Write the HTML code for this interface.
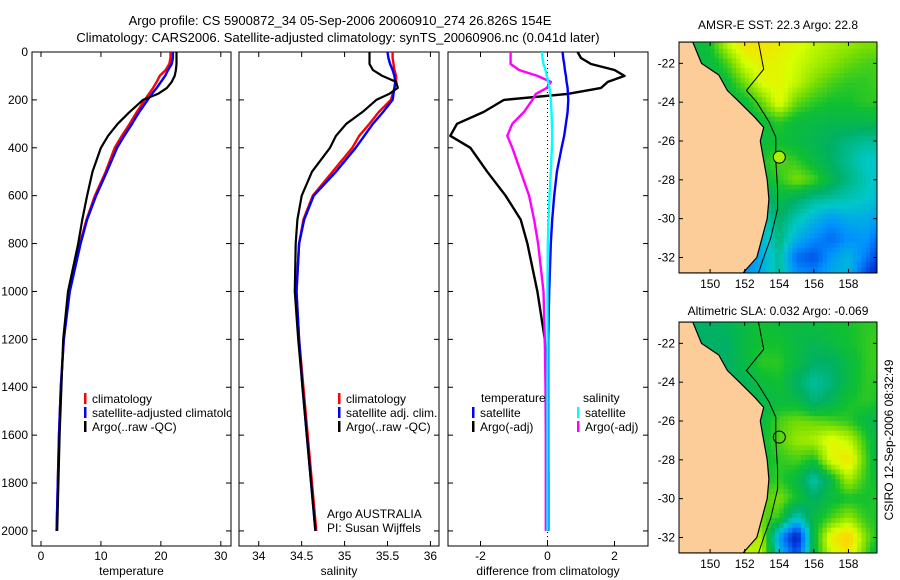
<!DOCTYPE html>
<html><head><meta charset="utf-8"><style>
html,body{margin:0;padding:0;background:#fff;}
svg{display:block;font-family:"Liberation Sans",sans-serif;}
text{fill:#000;}
</style></head><body>
<svg id="fig" width="900" height="580" viewBox="0 0 900 580">
<defs><clipPath id="c1"><rect x="32" y="52" width="199" height="494"/></clipPath></defs>
<text x="340" y="25" font-size="13" text-anchor="middle">Argo profile: CS 5900872_34 05-Sep-2006 20060910_274 26.826S 154E</text>
<text x="338" y="42" font-size="13" text-anchor="middle">Climatology: CARS2006. Satellite-adjusted climatology: synTS_20060906.nc (0.041d later)</text>
<text x="778" y="29" font-size="12" text-anchor="middle">AMSR-E SST: 22.3 Argo: 22.8</text>
<text x="778" y="315" font-size="12" text-anchor="middle">Altimetric SLA: 0.032 Argo: -0.069</text>
<text transform="translate(893,440) rotate(-90)" font-size="12" text-anchor="middle">CSIRO 12-Sep-2006 08:32:49</text>
<g id="plots"></g>
</svg>
<script>
const depths=[0,25,50,75,100,125,150,175,200,250,300,350,400,500,600,700,800,1000,1200,1400,1600,1800,2000];
const tClim=[21.6,21.6,21.4,20.8,19.8,19.3,18.7,18,17.3,16,14.8,13.5,12.3,10.8,9,7.6,6.5,4.7,3.8,3.3,3.0,2.8,2.6];
const tSat=[22,22,21.8,21.2,20.7,20,19.3,18.5,17.8,16.4,15.2,13.9,12.7,11,9.2,7.7,6.6,4.8,3.8,3.3,3.0,2.8,2.6];
const tArgo=[22.6,22.6,22.6,22.5,22.3,21.8,21,19.5,17,14.8,12.8,11.2,10,8.6,7.7,6.9,6.2,4.5,3.7,3.4,3.1,2.9,2.7];
const sClim=[35.56,35.56,35.57,35.58,35.6,35.6,35.58,35.56,35.54,35.4,35.29,35.17,35.09,34.86,34.63,34.52,34.47,34.44,34.47,34.52,34.57,34.62,34.67];
const sSat=[35.5,35.51,35.53,35.56,35.58,35.59,35.58,35.57,35.56,35.45,35.33,35.23,35.13,34.9,34.64,34.53,34.47,34.44,34.47,34.51,34.56,34.61,34.66];
const sArgo=[35.29,35.29,35.29,35.33,35.44,35.6,35.62,35.52,35.37,35.21,35.02,34.9,34.83,34.62,34.5,34.45,34.43,34.42,34.46,34.51,34.56,34.61,34.66];
const dTArgo=[0.9,1.0,1.3,2.0,2.3,1.8,1.6,0.6,-1.3,-1.9,-2.7,-2.9,-2.3,-1.8,-1.25,-0.8,-0.6,-0.3,-0.08,0,0,0.02,0.02];
const dTSat=[0.45,0.47,0.5,0.52,0.55,0.57,0.6,0.61,0.62,0.6,0.55,0.5,0.42,0.28,0.2,0.14,0.1,0.05,0.02,0.02,0.02,0.02,0.02];
const dSSat=[-0.17,-0.15,-0.12,-0.06,-0.02,0.02,0.06,0.08,0.1,0.12,0.13,0.14,0.13,0.1,0.06,0.03,0.01,0,0,0,0,0,0];
const dSArgo=[-1.1,-1.1,-1.1,-0.85,-0.3,0.1,-0.02,-0.35,-0.45,-0.7,-1.05,-1.2,-1.05,-0.8,-0.55,-0.4,-0.28,-0.12,-0.08,-0.06,-0.05,-0.05,-0.05];
const depthTicks=[0,200,400,600,800,1000,1200,1400,1600,1800,2000];
const tTicks=[0,10,20,30];
const sTicks=[34,34.5,35,35.5,36];
const sTickLabels=["34","34.5","35","35.5","36"];
const dTicks=[-2,0,2];
const lonTicks=[150,152,154,156,158];
const latTicks=[-22,-24,-26,-28,-30,-32];
const gridLons=[148,149,150,151,152,153,154,155,156,157,158,159,160];
const gridLats=[-21,-22,-23,-24,-25,-26,-27,-28,-29,-30,-31,-32,-33];
const sstGrid=[
[.55,.55,.58,.72,.8,.8,.78,.75,.72,.7,.68,.66,.66],
[.55,.55,.55,.62,.74,.77,.76,.73,.7,.67,.64,.62,.62],
[.55,.55,.55,.56,.65,.75,.76,.72,.66,.62,.6,.6,.62],
[.55,.55,.55,.55,.56,.64,.76,.64,.6,.58,.58,.6,.6],
[.55,.55,.55,.55,.55,.56,.6,.56,.55,.54,.54,.54,.54],
[.55,.55,.55,.55,.55,.56,.57,.55,.53,.5,.47,.45,.45],
[.55,.55,.55,.55,.55,.58,.63,.6,.55,.5,.45,.4,.4],
[.55,.55,.55,.55,.55,.56,.6,.66,.62,.53,.47,.42,.38],
[.55,.55,.55,.5,.45,.45,.55,.5,.45,.44,.42,.4,.36],
[.5,.5,.5,.45,.35,.4,.5,.42,.36,.3,.34,.34,.3],
[.45,.45,.45,.4,.3,.36,.48,.35,.28,.22,.28,.3,.2],
[.4,.4,.4,.35,.28,.34,.45,.22,.18,.3,.36,.25,.1],
[.4,.4,.4,.35,.28,.34,.45,.3,.28,.34,.36,.15,.03]];
const slaGrid=[
[.5,.5,.5,.52,.55,.58,.56,.55,.56,.57,.58,.6,.6],
[.5,.5,.5,.5,.55,.58,.58,.55,.53,.55,.58,.6,.62],
[.5,.5,.5,.5,.55,.6,.6,.55,.5,.5,.55,.6,.62],
[.5,.5,.5,.5,.52,.56,.58,.5,.44,.48,.55,.6,.6],
[.5,.5,.5,.5,.52,.54,.56,.55,.48,.52,.58,.6,.58],
[.5,.5,.5,.5,.52,.55,.62,.65,.64,.62,.6,.55,.52],
[.5,.5,.5,.5,.52,.56,.63,.68,.7,.76,.72,.6,.5],
[.5,.5,.5,.5,.52,.56,.6,.62,.58,.75,.8,.62,.48],
[.5,.5,.5,.5,.55,.58,.6,.55,.42,.55,.7,.6,.55],
[.5,.5,.5,.55,.6,.62,.66,.58,.5,.56,.58,.58,.6],
[.5,.5,.5,.6,.62,.64,.6,.4,.55,.62,.68,.6,.58],
[.5,.5,.5,.65,.68,.7,.3,.05,.55,.78,.84,.66,.55],
[.5,.5,.5,.68,.72,.72,.4,.2,.55,.72,.78,.62,.45]];
const coastLon=[147,149.0,149.5,150.5,151.0,151.7,152.6,153.1,152.9,153.1,153.3,153.4,153.3,153.0,152.7,151.9,147];
const coastLat=[-20.9,-20.9,-22,-22.6,-23.4,-24,-24.8,-25.3,-26,-27,-28,-29,-30,-31,-32,-32.8,-32.8];
const shelfLon=[152.8,153.1,152.1,152.7,153.4,153.8,153.8,153.9,153.9,153.5,153.1,152.8];
const shelfLat=[-20.9,-22.3,-23.4,-24,-25,-25.8,-27,-28.5,-29.5,-31,-32,-32.8];
const argoLon=154.0, argoLat=-26.83, argoSSTIdx=0.7;

const NS='http://www.w3.org/2000/svg';
const root=document.getElementById('plots');
function mk(tag,attrs,parent){const e=document.createElementNS(NS,tag);for(const k in attrs)e.setAttribute(k,attrs[k]);(parent||root).appendChild(e);return e;}
const Y0=52,Y1=546,DMAX=2063;
function yD(d){return Y0+(d/DMAX)*(Y1-Y0);}
const panels=[
 {name:'temperature',x0:32,x1:231,lo:-1.5,hi:31.7,ticks:tTicks,labels:tTicks.map(String),title:'temperature',ylab:true},
 {name:'salinity',x0:239,x1:439,lo:33.77,hi:36.1,ticks:sTicks,labels:sTickLabels,title:'salinity',ylab:false},
 {name:'difference',x0:448,x1:648,lo:-2.97,hi:3.0,ticks:dTicks,labels:dTicks.map(String),title:'difference from climatology',ylab:false}];
function xf(p){return v=>p.x0+(v-p.lo)/(p.hi-p.lo)*(p.x1-p.x0);}
function line(p,vals,color,name,w,parent){
  const X=xf(p);const pts=vals.map((v,i)=>X(v).toFixed(1)+','+yD(depths[i]).toFixed(1)).join(' ');
  const e=mk('polyline',{points:pts,fill:'none',stroke:color,'stroke-width':w||2.2,'stroke-linejoin':'round'},parent);
  
  
}
panels.forEach(p=>{
  const g=mk('g',{});
  
  
  const X=xf(p);
  mk('rect',{x:p.x0,y:Y0,width:p.x1-p.x0,height:Y1-Y0,fill:'#fff',stroke:'#000','stroke-width':1},g);
  depthTicks.forEach(d=>{
    const y=yD(d);
    mk('line',{x1:p.x0,x2:p.x0+5,y1:y,y2:y,stroke:'#000'},g);
    mk('line',{x1:p.x1-5,x2:p.x1,y1:y,y2:y,stroke:'#000'},g);
    if(p.ylab){const t=mk('text',{x:p.x0-4,y:y+4,'font-size':12,'text-anchor':'end'},g);t.textContent=d;
      
      }
  });
  p.ticks.forEach((v,i)=>{
    const x=X(v);
    mk('line',{x1:x,x2:x,y1:Y0,y2:Y0+5,stroke:'#000'},g);
    mk('line',{x1:x,x2:x,y1:Y1-5,y2:Y1,stroke:'#000'},g);
    const t=mk('text',{x:x,y:Y1+14,'font-size':12,'text-anchor':'middle'},g);t.textContent=p.labels[i];
    
    
  });
  const tt=mk('text',{x:(p.x0+p.x1)/2,y:575,'font-size':12,'text-anchor':'middle'},g);tt.textContent=p.title;
  
  
  p.g=g;
});
line(panels[0],tClim,'#f00','temp-climatology-line',2.4,panels[0].g);
line(panels[0],tSat,'#00f','temp-satellite-line',2.4,panels[0].g);
line(panels[0],tArgo,'#000','temp-argo-line',2.2,panels[0].g);
line(panels[1],sClim,'#f00','sal-climatology-line',2.4,panels[1].g);
line(panels[1],sSat,'#00f','sal-satellite-line',2.4,panels[1].g);
line(panels[1],sArgo,'#000','sal-argo-line',2.2,panels[1].g);
{const X=xf(panels[2]);mk('line',{x1:X(0),x2:X(0),y1:Y0,y2:yD(2063),stroke:'#000','stroke-dasharray':'1,3'},panels[2].g);}
line(panels[2],dTArgo,'#000','diff-temp-argo-line',2.4,panels[2].g);
line(panels[2],dSArgo,'#f0f','diff-sal-argo-line',2.4,panels[2].g);
line(panels[2],dTSat,'#00f','diff-temp-satellite-line',2.4,panels[2].g);
line(panels[2],dSSat,'#0ff','diff-sal-satellite-line',2.4,panels[2].g);
function legend(items,parent,nm,clip){
  items.forEach(it=>{
    mk('rect',{x:it[0],y:it[1]-9,width:2.5,height:11,fill:it[2]},parent);
    const t=mk('text',{x:it[0]+8,y:it[1]+1,'font-size':12},parent);t.textContent=it[3];
    if(clip)t.setAttribute('clip-path','url(#c1)');
    
    
  });
}
legend([[84,402,'#f00','climatology'],[84,416,'#00f','satellite-adjusted climatology'],[84,430,'#000','Argo(..raw -QC)']],panels[0].g,'temp',true);
legend([[338,402,'#f00','climatology'],[338,416,'#00f','satellite adj. clim.'],[338,430,'#000','Argo(..raw -QC)']],panels[1].g,'sal',false);
{const t=mk('text',{x:481,y:402,'font-size':12},panels[2].g);t.textContent='temperature';
 const t2=mk('text',{x:583,y:402,'font-size':12},panels[2].g);t2.textContent='salinity';}
legend([[472,416,'#00f','satellite'],[472,430,'#000','Argo(-adj)'],[577,416,'#0ff','satellite'],[577,430,'#f0f','Argo(-adj)']],panels[2].g,'diff',false);
{const a=mk('text',{x:327,y:518,'font-size':12},panels[1].g);a.textContent='Argo AUSTRALIA';
 const b=mk('text',{x:327,y:532,'font-size':12},panels[1].g);b.textContent='PI: Susan Wijffels';}

const stops=[[0,[0,0,144]],[0.15,[0,64,224]],[0.28,[0,144,255]],[0.4,[0,200,200]],[0.5,[0,176,100]],[0.58,[16,192,48]],[0.66,[128,224,0]],[0.74,[216,255,0]],[0.82,[255,216,0]],[0.9,[255,144,0]],[1,[224,64,0]]];
function cmap(v){v=Math.max(0,Math.min(1,v));for(let i=1;i<stops.length;i++){if(v<=stops[i][0]){const a=stops[i-1],b=stops[i],f=(v-a[0])/(b[0]-a[0]);return 'rgb('+a[1].map((c,k)=>Math.round(c+(b[1][k]-c)*f)).join(',')+')';}}return 'rgb(224,64,0)';}
function sample(grid,lon,lat){
  let fx=(lon-gridLons[0]),fy=(gridLats[0]-lat);
  fx=Math.max(0,Math.min(gridLons.length-1.001,fx));fy=Math.max(0,Math.min(gridLats.length-1.001,fy));
  const i=Math.floor(fy),j=Math.floor(fx),a=fy-i,b=fx-j;
  return grid[i][j]*(1-a)*(1-b)+grid[i][j+1]*(1-a)*b+grid[i+1][j]*a*(1-b)+grid[i+1][j+1]*a*b;
}
function drawMap(grid,top,name,circleFill){
  const mx0=679,mx1=877,my0=top,my1=top+231,L0=148.2,L1=159.65,A0=-20.9,A1=-32.8;
  const MX=l=>mx0+(l-L0)/(L1-L0)*(mx1-mx0),MY=a=>my0+(A0-a)/(A0-A1)*(my1-my0);
  const g=mk('g',{});
  
  
  const cid='clip'+name;const cp=mk('clipPath',{id:cid},g);mk('rect',{x:mx0,y:my0,width:mx1-mx0,height:my1-my0},cp);
  const cells=mk('g',{'clip-path':'url(#'+cid+')'},g);
  
  
  const st=0.25;
  for(let lat=-20.75;lat>-33;lat-=st){for(let lon=148;lon<160;lon+=st){
    const v=sample(grid,lon+st/2,lat-st/2);
    mk('rect',{x:MX(lon).toFixed(1),y:MY(lat).toFixed(1),width:(st/(L1-L0)*(mx1-mx0)+0.6).toFixed(1),height:(st/(A0-A1)*(my1-my0)+0.6).toFixed(1),fill:cmap(v)},cells);
  }}
  const land=mk('polygon',{points:coastLon.map((l,i)=>MX(l).toFixed(1)+','+MY(coastLat[i]).toFixed(1)).join(' '),fill:'#fccc99',stroke:'#000','stroke-width':1.2},cells);
  
  
  mk('polyline',{points:shelfLon.map((l,i)=>MX(l).toFixed(1)+','+MY(shelfLat[i]).toFixed(1)).join(' '),fill:'none',stroke:'#000','stroke-width':1},cells);
  const c=mk('circle',{cx:MX(argoLon),cy:MY(argoLat),r:6,fill:circleFill,stroke:'#000','stroke-width':1},cells);
  
  
  mk('rect',{x:mx0,y:my0,width:mx1-mx0,height:my1-my0,fill:'none',stroke:'#000'},g);
  lonTicks.forEach(l=>{const x=MX(l);mk('line',{x1:x,x2:x,y1:my0,y2:my0+4,stroke:'#000'},g);mk('line',{x1:x,x2:x,y1:my1-4,y2:my1,stroke:'#000'},g);
    const t=mk('text',{x:x,y:my1+15,'font-size':12,'text-anchor':'middle'},g);t.textContent=l;
    
    });
  latTicks.forEach(a=>{const y=MY(a);mk('line',{x1:mx0,x2:mx0+4,y1:y,y2:y,stroke:'#000'},g);mk('line',{x1:mx1-4,x2:mx1,y1:y,y2:y,stroke:'#000'},g);
    const t=mk('text',{x:mx0-4,y:y+4,'font-size':12,'text-anchor':'end'},g);t.textContent=a;
    
    });
}
drawMap(sstGrid,42,'sst',cmap(argoSSTIdx));
drawMap(slaGrid,322,'sla','none');
</script>
</body></html>
